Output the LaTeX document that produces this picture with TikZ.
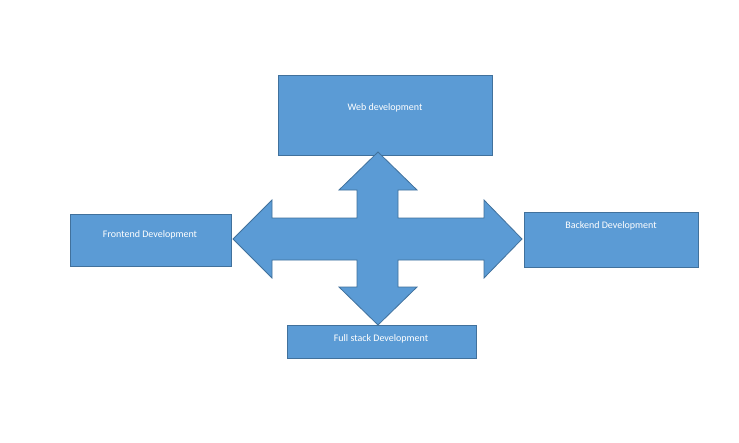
\documentclass[tikz,border=0pt]{standalone}
\usepackage{fontspec}
\setmainfont{Carlito}
\begin{document}
\begin{tikzpicture}[x=1pt,y=-1pt,
  box/.style={draw=boxline,fill=boxfill,line width=0.8pt},
  lbl/.style={text=white,font=\fontsize{10}{12}\selectfont,inner sep=0pt}]
\definecolor{boxfill}{HTML}{5B9BD5}
\definecolor{boxline}{HTML}{41719C}
\useasboundingbox (0,0) rectangle (739,442);
\fill[white] (0,0) rectangle (739,442);
\draw[box] (278,75) rectangle (492,155);
\node[lbl] (web) at (385,108) {Web development};
\draw[box] (70,214) rectangle (231,266);
\node[lbl] (front) at (150,235) {Frontend Development};
\draw[box] (524,212) rectangle (698,267);
\node[lbl] (back) at (611,226) {Backend Development};
\draw[box] (287,325) rectangle (476,358);
\node[lbl] (full) at (381,339) {Full stack Development};
\draw[box] (378,152) -- (417,190) -- (398,190) -- (398,218) -- (484,218) -- (484,200)
 -- (522,239) -- (484,278) -- (484,260) -- (398,260) -- (398,287) -- (417,287)
 -- (378,325) -- (339,287) -- (357,287) -- (357,260) -- (272,260) -- (272,278)
 -- (233,239) -- (272,200) -- (272,218) -- (357,218) -- (357,190) -- (339,190) -- cycle;
\end{tikzpicture}
\end{document}
